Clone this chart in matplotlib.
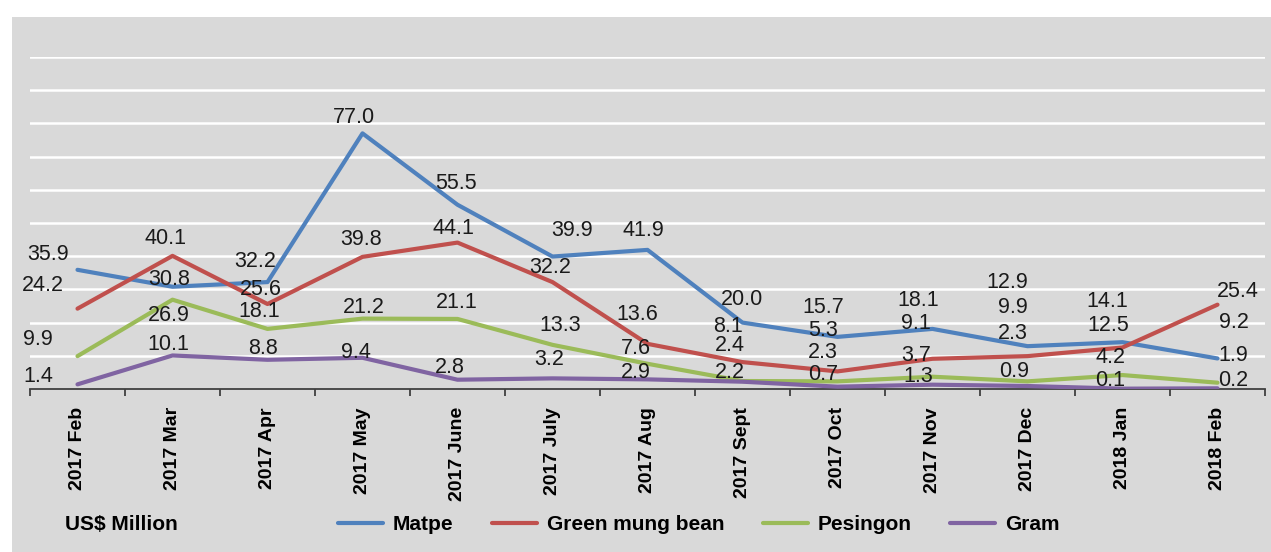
import matplotlib
matplotlib.use("Agg")
import matplotlib.pyplot as plt
from matplotlib.patches import Rectangle
import numpy as np

plt.rcParams['font.family'] = ['Liberation Sans', 'DejaVu Sans']

months = ['2017 Feb', '2017 Mar', '2017 Apr', '2017 May', '2017 June', '2017 July', '2017 Aug',
          '2017 Sept', '2017 Oct', '2017 Nov', '2017 Dec', '2018 Jan', '2018 Feb']

matpe = [35.9, 30.8, 32.2, 77.0, 55.5, 39.9, 41.9, 20.0, 15.7, 18.1, 12.9, 14.1, 9.2]
mung = [24.2, 40.1, 25.6, 39.8, 44.1, 32.2, 13.6, 8.1, 5.3, 9.1, 9.9, 12.5, 25.4]
pesingon = [9.9, 26.9, 18.1, 21.2, 21.1, 13.3, 7.6, 2.4, 2.3, 3.7, 2.3, 4.2, 1.9]
gram = [1.4, 10.1, 8.8, 9.4, 2.8, 3.2, 2.9, 2.2, 0.7, 1.3, 0.9, 0.1, 0.2]

# where the value labels sit (offset in categories, height in US$ million)
matpe_lbl_dx = [-0.31, -0.04, -0.13, -0.09, -0.02, 0.21, -0.04, 0.0, -0.15, -0.15, -0.21, -0.16, 0.17]
matpe_lbl_y = [40.4, 33.1, 38.3, 81.9, 62.0, 47.6, 47.6, 27.1, 24.4, 26.8, 32.2, 26.5, 19.9]
mung_lbl_dx = [-0.36, -0.07, -0.07, -0.02, -0.04, -0.02, -0.11, -0.15, -0.15, -0.17, -0.15, -0.15, 0.21]
mung_lbl_y = [31.3, 45.2, 30.1, 44.9, 48.2, 36.7, 22.3, 18.7, 17.6, 19.6, 24.4, 19.0, 29.5]
pes_lbl_dx = [-0.42, -0.04, -0.09, 0.01, -0.01, 0.08, -0.12, -0.13, -0.15, -0.17, -0.15, -0.13, 0.17]
pes_lbl_y = [14.8, 22.0, 23.2, 24.4, 26.2, 19.0, 12.3, 13.0, 11.0, 10.2, 16.6, 9.6, 10.2]
gram_lbl_dx = [-0.41, -0.04, -0.05, -0.07, -0.08, -0.04, -0.12, -0.13, -0.15, -0.15, -0.14, -0.13, 0.17]
gram_lbl_y = [3.9, 13.3, 12.3, 11.1, 6.6, 9.0, 5.1, 5.1, 4.3, 3.9, 5.4, 2.7, 2.7]

fig = plt.figure(figsize=(12.71, 5.52), dpi=100)
fig.patch.set_facecolor('white')
fig.patches.append(Rectangle((12 / 1271, 0), 1 - 12 / 1271, (552 - 17) / 552,
                             transform=fig.transFigure, facecolor='#d9d9d9',
                             edgecolor='none', zorder=-10))

ax = fig.add_axes([30 / 1271, (552 - 389) / 552, 1235 / 1271, 332 / 552])
ax.set_facecolor('none')

x = np.arange(len(months))
series = [
    ('Matpe', matpe, '#4f81bd', matpe_lbl_dx, matpe_lbl_y),
    ('Green mung bean', mung, '#c0504d', mung_lbl_dx, mung_lbl_y),
    ('Pesingon', pesingon, '#9bbb59', pes_lbl_dx, pes_lbl_y),
    ('Gram', gram, '#8064a2', gram_lbl_dx, gram_lbl_y),
]
for name, vals, col, dx, ly in series:
    ax.plot(x, vals, color=col, lw=3, label=name, solid_capstyle='round', zorder=3)
    for i, v in enumerate(vals):
        ax.text(i + dx[i], ly[i], f'{v:.1f}', ha='center', va='center',
                fontsize=15.5, color='#1a1a1a', zorder=4)

ax.set_xlim(-0.5, len(months) - 0.5)
ax.set_ylim(0, 100)
ax.set_yticks(np.arange(10, 101, 10))
ax.yaxis.grid(True, color='white', lw=1.8)
ax.set_axisbelow(True)
ax.tick_params(axis='y', left=False, labelleft=False)

for s in ['top', 'left', 'right']:
    ax.spines[s].set_visible(False)
ax.spines['bottom'].set_color('#404040')
ax.spines['bottom'].set_linewidth(1.3)

ax.set_xticks(x)
ax.set_xticklabels(months, rotation=90, fontsize=14, fontweight='bold')
ax.tick_params(axis='x', which='major', length=0, pad=13)
ax.set_xticks(np.arange(-0.5, len(months), 1), minor=True)
ax.tick_params(axis='x', which='minor', length=5, width=1.3, color='#404040')

fig.text(65 / 1271, 1 - 525 / 552, 'US$ Million', fontsize=15, fontweight='bold',
         ha='left', va='center')
fig.legend(loc='center left', bbox_to_anchor=(338 / 1271, 1 - 525 / 552), ncol=4,
           frameon=False, borderpad=0, borderaxespad=0, handlelength=2.15,
           handletextpad=0.48, columnspacing=1.85, prop={'weight': 'bold', 'size': 15})

fig.savefig('out.png', dpi=100)
